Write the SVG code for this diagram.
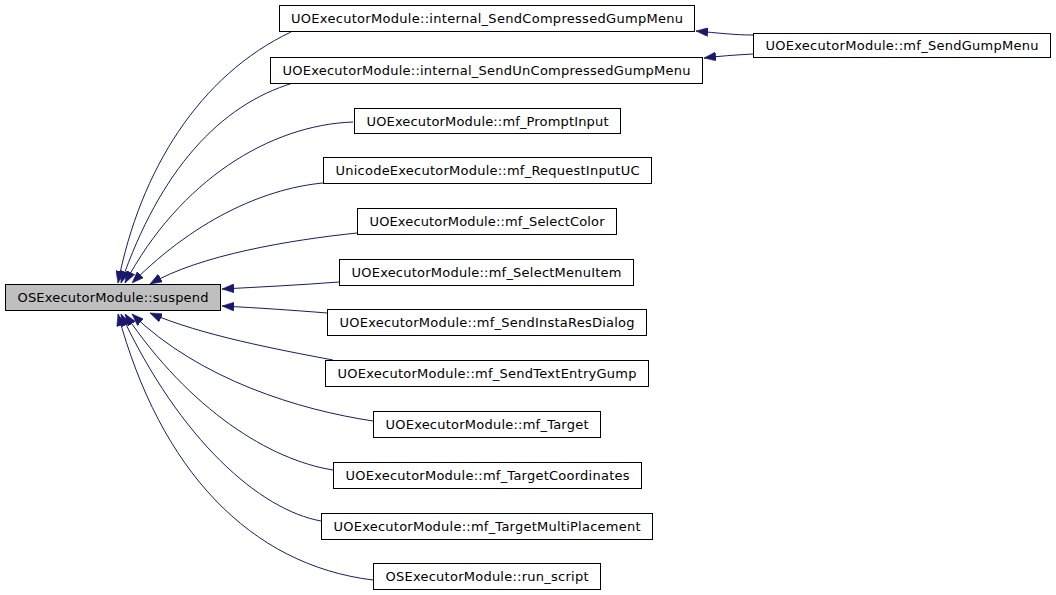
<svg xmlns="http://www.w3.org/2000/svg" width="1056" height="595" viewBox="0 0 1056 595">
<style>
.n rect{fill:#ffffff;stroke:#000000;stroke-width:1}
.n.main rect{fill:#bfbfbf}
.n text{font-family:"DejaVu Sans","Liberation Sans",sans-serif;font-size:13px;fill:#000000;text-anchor:middle}
.e path{fill:none;stroke:#191970;stroke-width:1;marker-end:url(#ah)}
</style>
<defs>
<marker id="ah" markerUnits="userSpaceOnUse" viewBox="0 0 12 9" refX="12" refY="4.5" markerWidth="12" markerHeight="9" orient="auto">
<path d="M0,0 L12,4.5 L0,9 z" fill="#191970" stroke="#191970" stroke-width="0.5"/>
</marker>
</defs>
<rect width="1056" height="595" fill="#ffffff"/>
<g id="edges" class="e">
<path d="M291,32 C200,75 140,170 118,283"/>
<path d="M293,83 C220,105 160,170 121,283"/>
<path d="M353,122 C270,125 180,180 125,283"/>
<path d="M323,183 C270,188 200,215 132,283"/>
<path d="M357,233 C290,240 200,255 150,284"/>
<path d="M339,282 C300,285 260,287 222,289"/>
<path d="M327,313 C290,310 260,308 222,306"/>
<path d="M333,360 C280,350 200,335 150,313"/>
<path d="M373,421 C300,410 200,380 132,314"/>
<path d="M333,470 C270,460 190,410 125,314"/>
<path d="M321,521 C260,510 180,440 121,314"/>
<path d="M373,580 C250,565 160,470 118,314"/>
<path d="M753,35 C735,35 718,33 696,31"/>
<path d="M753,54 C735,55 720,56 704,58"/>
</g>
<g id="n_suspend" class="n main"><rect x="5.5" y="284.5" width="215" height="26"/><text x="113" y="302" textLength="191" lengthAdjust="spacing">OSExecutorModule::suspend</text></g>
<g id="n_compressed" class="n"><rect x="279.5" y="5.5" width="415" height="26"/><text x="487" y="23" textLength="392" lengthAdjust="spacing">UOExecutorModule::internal_SendCompressedGumpMenu</text></g>
<g id="n_uncompressed" class="n"><rect x="270.5" y="57.5" width="432" height="26"/><text x="486.5" y="75" textLength="408" lengthAdjust="spacing">UOExecutorModule::internal_SendUnCompressedGumpMenu</text></g>
<g id="n_prompt" class="n"><rect x="354.5" y="108.5" width="266" height="25"/><text x="487.5" y="126" textLength="242" lengthAdjust="spacing">UOExecutorModule::mf_PromptInput</text></g>
<g id="n_requc" class="n"><rect x="323.5" y="157.5" width="328" height="26"/><text x="487.5" y="175" textLength="304" lengthAdjust="spacing">UnicodeExecutorModule::mf_RequestInputUC</text></g>
<g id="n_color" class="n"><rect x="357.5" y="208.5" width="259" height="26"/><text x="487" y="226" textLength="235" lengthAdjust="spacing">UOExecutorModule::mf_SelectColor</text></g>
<g id="n_menuitem" class="n"><rect x="339.5" y="259.5" width="294" height="26"/><text x="486.5" y="277" textLength="270" lengthAdjust="spacing">UOExecutorModule::mf_SelectMenuItem</text></g>
<g id="n_instares" class="n"><rect x="327.5" y="309.5" width="319" height="26"/><text x="487" y="327" textLength="295" lengthAdjust="spacing">UOExecutorModule::mf_SendInstaResDialog</text></g>
<g id="n_textentry" class="n"><rect x="325.5" y="360.5" width="323" height="26"/><text x="487" y="378" textLength="299" lengthAdjust="spacing">UOExecutorModule::mf_SendTextEntryGump</text></g>
<g id="n_target" class="n"><rect x="373.5" y="411.5" width="227" height="26"/><text x="487" y="429" textLength="203" lengthAdjust="spacing">UOExecutorModule::mf_Target</text></g>
<g id="n_targetcoords" class="n"><rect x="333.5" y="462.5" width="308" height="26"/><text x="487.5" y="480" textLength="284" lengthAdjust="spacing">UOExecutorModule::mf_TargetCoordinates</text></g>
<g id="n_multi" class="n"><rect x="321.5" y="513.5" width="331" height="26"/><text x="487" y="531" textLength="307" lengthAdjust="spacing">UOExecutorModule::mf_TargetMultiPlacement</text></g>
<g id="n_runscript" class="n"><rect x="373.5" y="563.5" width="227" height="26"/><text x="487" y="581" textLength="203" lengthAdjust="spacing">OSExecutorModule::run_script</text></g>
<g id="n_sendgump" class="n"><rect x="753.5" y="33.5" width="297" height="24"/><text x="902" y="50" textLength="273" lengthAdjust="spacing">UOExecutorModule::mf_SendGumpMenu</text></g>
</svg>
